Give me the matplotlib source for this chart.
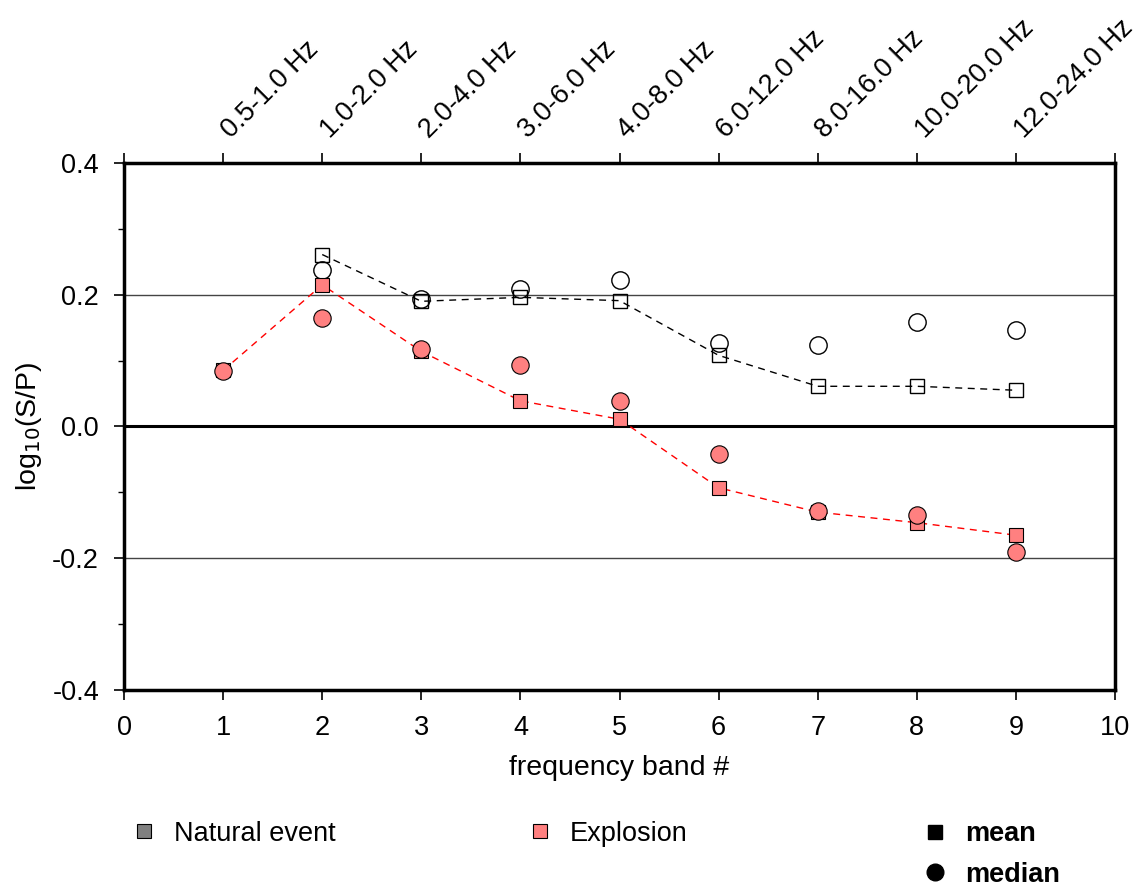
import numpy as np
import matplotlib.pyplot as plt
import matplotlib.transforms as mtransforms
from matplotlib.lines import Line2D

plt.rcParams['font.family'] = ['Liberation Sans', 'DejaVu Sans']

# frequency bands
bands = np.arange(1, 10)
band_labels = ["0.5-1.0 Hz", "1.0-2.0 Hz", "2.0-4.0 Hz", "3.0-6.0 Hz", "4.0-8.0 Hz",
               "6.0-12.0 Hz", "8.0-16.0 Hz", "10.0-20.0 Hz", "12.0-24.0 Hz"]

# log10(S/P) per band -- natural events (no value for band 1)
nat_bands = np.arange(2, 10)
nat_mean = [0.261, 0.190, 0.196, 0.191, 0.108, 0.061, 0.061, 0.055]
nat_median = [0.237, 0.193, 0.209, 0.223, 0.126, 0.123, 0.159, 0.146]

# explosions
exp_mean = [0.085, 0.215, 0.114, 0.039, 0.011, -0.093, -0.130, -0.146, -0.165]
exp_median = [0.084, 0.164, 0.117, 0.093, 0.039, -0.042, -0.129, -0.135, -0.191]

pink = '#ff8080'
fs = 19.5

fig = plt.figure(figsize=(11.39, 8.91), dpi=100)
ax = fig.add_axes([0.1089, 0.2256, 0.8700, 0.5915])

# horizontal reference lines
for yv in (0.2, -0.2):
    ax.axhline(yv, color='#444444', lw=1.0, zorder=1)
ax.axhline(0.0, color='black', lw=2.2, zorder=1)

# natural events: open markers
ax.plot(nat_bands, nat_mean, color='black', ls=(0, (5, 4)), lw=1.0, zorder=2)
ax.plot(nat_bands, nat_mean, ls='none', marker='s', ms=10, mfc='none', mec='black', mew=1.0, zorder=3)
ax.plot(nat_bands, nat_median, ls='none', marker='o', ms=12.5, mfc='none', mec='black', mew=1.0, zorder=3)

# explosions: filled pink markers
ax.plot(bands, exp_mean, color='red', ls=(0, (5, 4)), lw=1.0, zorder=2)
ax.plot(bands, exp_mean, ls='none', marker='s', ms=10, mfc=pink, mec='black', mew=0.8, zorder=4)
ax.plot(bands, exp_median, ls='none', marker='o', ms=12.5, mfc=pink, mec='black', mew=0.8, zorder=5)

ax.set_xlim(0, 10)
ax.set_ylim(-0.4, 0.4)
ax.set_xticks(np.arange(0, 11))
ax.set_yticks([-0.4, -0.2, 0.0, 0.2, 0.4])
ax.set_yticklabels(['-0.4', '-0.2', '0.0', '0.2', '0.4'])
ax.set_yticks(np.arange(-0.3, 0.4, 0.2), minor=True)
ax.tick_params(axis='both', which='major', direction='out', length=7, width=1.2,
               labelsize=fs, pad=11)
ax.tick_params(axis='y', which='minor', direction='out', length=4, width=1.0)
ax.tick_params(axis='x', top=True)
for sp in ax.spines.values():
    sp.set_linewidth(2.5)

ax.set_xlabel('frequency band #', fontsize=20.5, labelpad=10)
ax.set_ylabel(r'log$_{10}$(S/P)', fontsize=20.5, labelpad=6)

# band names above the top axis, rotated
lab_tr = ax.get_xaxis_transform() + mtransforms.ScaledTranslation(0.12, 0.20, fig.dpi_scale_trans)
for b, lab in zip(bands, band_labels):
    ax.text(b, 1.0, lab, transform=lab_tr, rotation=45, ha='left', va='bottom',
            rotation_mode='anchor', fontsize=fs, clip_on=False)

# legend row under the plot
handles = [
    Line2D([], [], ls='none', marker='s', ms=10, mfc='#808080', mec='black', mew=0.8),
    Line2D([], [], ls='none', marker='s', ms=10, mfc=pink, mec='black', mew=0.8),
]
fig.legend(handles[:1], ['Natural event'], loc='center left', bbox_to_anchor=(0.093, 0.064),
           frameon=False, fontsize=fs, handletextpad=0.6, handlelength=1.0)
fig.legend(handles[1:], ['Explosion'], loc='center left', bbox_to_anchor=(0.441, 0.064),
           frameon=False, fontsize=fs, handletextpad=0.6, handlelength=1.0)
stat_handles = [
    Line2D([], [], ls='none', marker='s', ms=10, mfc='black', mec='black'),
    Line2D([], [], ls='none', marker='o', ms=12, mfc='black', mec='black'),
]
fig.legend(stat_handles, ['mean', 'median'], loc='center left', bbox_to_anchor=(0.788, 0.041),
           frameon=False, prop={'size': fs, 'weight': 'bold'}, handletextpad=0.6,
           handlelength=1.0, labelspacing=0.55)

fig.savefig('out.png', dpi=100)
